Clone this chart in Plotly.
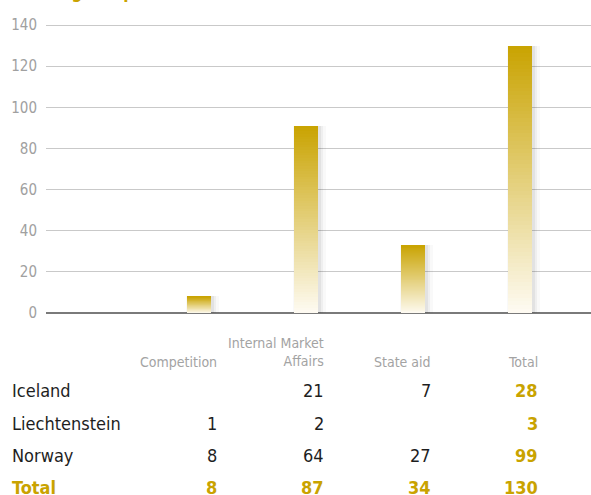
import plotly.graph_objects as go

# ---- data ----
categories = ["Competition", "Internal Market<br>Affairs", "State aid", "Total"]
bar_values = [8, 91, 33, 130]          # bar heights as drawn
row_labels = ["Iceland", "Liechtenstein", "Norway"]
iceland = [None, 21, 7, 28]
liechtenstein = [1, 2, None, 3]
norway = [8, 64, 27, 99]
totals = [8, 87, 34, 130]
y_ticks = [0, 20, 40, 60, 80, 100, 120, 140]
title_text = "Pending complaints"

# ---- style ----
FONT = "Liberation Sans Narrow, Arial Narrow, DejaVu Sans Condensed, sans-serif"
GOLD = "#C9A300"
TOP_RGB = (201, 163, 0)
BOT_RGB = (254, 251, 243)
N_SEG = 70
BAR_W = 0.224

x_pos = list(range(1, len(categories) + 1))
x_range = [-0.43, 4.663]

fig = go.Figure()

# soft shadows (base axis, drawn below the gradient bars)
for w, off, a in [(0.31, -0.125, 0.025), (0.27, -0.115, 0.04), (0.245, -0.108, 0.05)]:
    fig.add_trace(go.Bar(x=x_pos, y=bar_values, width=w, offset=off,
                         marker=dict(color=f"rgba(0,0,0,{a})", line=dict(width=0)),
                         hoverinfo="skip", showlegend=False, xaxis="x", yaxis="y"))

# gradient bars built from slices (overlay axis)
for k in range(N_SEG):
    t = (k + 0.5) / N_SEG  # 0 bottom -> 1 top
    c = tuple(round(BOT_RGB[i] + (TOP_RGB[i] - BOT_RGB[i]) * t) for i in range(3))
    fig.add_trace(go.Bar(x=x_pos, y=[v / N_SEG * 1.02 for v in bar_values],
                         base=[v * k / N_SEG for v in bar_values], width=BAR_W,
                         marker=dict(color=f"rgb{c}", line=dict(width=0)),
                         hoverinfo="skip", showlegend=False, xaxis="x2", yaxis="y"))

annotations = []
LEFT_X = -36 / 545
# title (cut off at top like the reference)
annotations.append(dict(text=f"<b>{title_text}</b>", xref="paper", yref="paper",
                        x=LEFT_X, y=1, xanchor="left", yanchor="bottom", yshift=19,
                        showarrow=False, font=dict(family=FONT, size=17, color=GOLD)))

def ysh(py):
    return 313 - py

XS = 20
# headers
for xi, cat in zip(x_pos, categories):
    two = "<br>" in cat
    annotations.append(dict(text=cat, xref="x", yref="y", x=xi, y=0, xanchor="right",
                            yanchor="middle", xshift=XS, yshift=ysh(352.5 if two else 362),
                            align="right", showarrow=False,
                            font=dict(family=FONT, size=14, color="#A3A3A3")))

row_y = [391, 424, 456]
for label, vals, py in zip(row_labels, [iceland, liechtenstein, norway], row_y):
    annotations.append(dict(text=label, xref="paper", yref="y", x=LEFT_X, y=0,
                            xanchor="left", yanchor="middle", yshift=ysh(py),
                            showarrow=False, font=dict(family=FONT, size=18, color="#1E1E1E")))
    for j, (xi, v) in enumerate(zip(x_pos, vals)):
        if v is None:
            continue
        last = j == len(vals) - 1
        annotations.append(dict(text=f"<b>{v}</b>" if last else str(v), xref="x", yref="y",
                                x=xi, y=0, xanchor="right", yanchor="middle", xshift=XS,
                                yshift=ysh(py), showarrow=False,
                                font=dict(family=FONT, size=18,
                                          color=GOLD if last else "#1E1E1E")))
# totals row
annotations.append(dict(text="<b>Total</b>", xref="paper", yref="y", x=LEFT_X, y=0,
                        xanchor="left", yanchor="middle", yshift=ysh(488), showarrow=False,
                        font=dict(family=FONT, size=18, color=GOLD)))
for xi, v in zip(x_pos, totals):
    annotations.append(dict(text=f"<b>{v}</b>", xref="x", yref="y", x=xi, y=0,
                            xanchor="right", yanchor="middle", xshift=XS, yshift=ysh(488),
                            showarrow=False, font=dict(family=FONT, size=18, color=GOLD)))

fig.update_layout(
    width=591, height=495,
    margin=dict(l=46, r=0, t=23, b=180),
    paper_bgcolor="white", plot_bgcolor="white",
    barmode="overlay", bargap=0,
    showlegend=False,
    font=dict(family=FONT),
    xaxis=dict(range=x_range, showgrid=False, zeroline=False, showticklabels=False,
               ticks="", fixedrange=True),
    xaxis2=dict(range=x_range, overlaying="x", visible=False, fixedrange=True),
    yaxis=dict(range=[-1, 141], tickvals=y_ticks, showgrid=True, gridcolor="#C9C9C9",
               gridwidth=1, zeroline=True, zerolinecolor="#7A7A7A", zerolinewidth=2,
               ticks="", ticklabelstandoff=8,
               tickfont=dict(family=FONT, size=15, color="#A0A0A0"), fixedrange=True),
    annotations=annotations,
)

fig.write_html("out.html", config={"displayModeBar": False},
               post_script="document.body.style.margin='0';")
